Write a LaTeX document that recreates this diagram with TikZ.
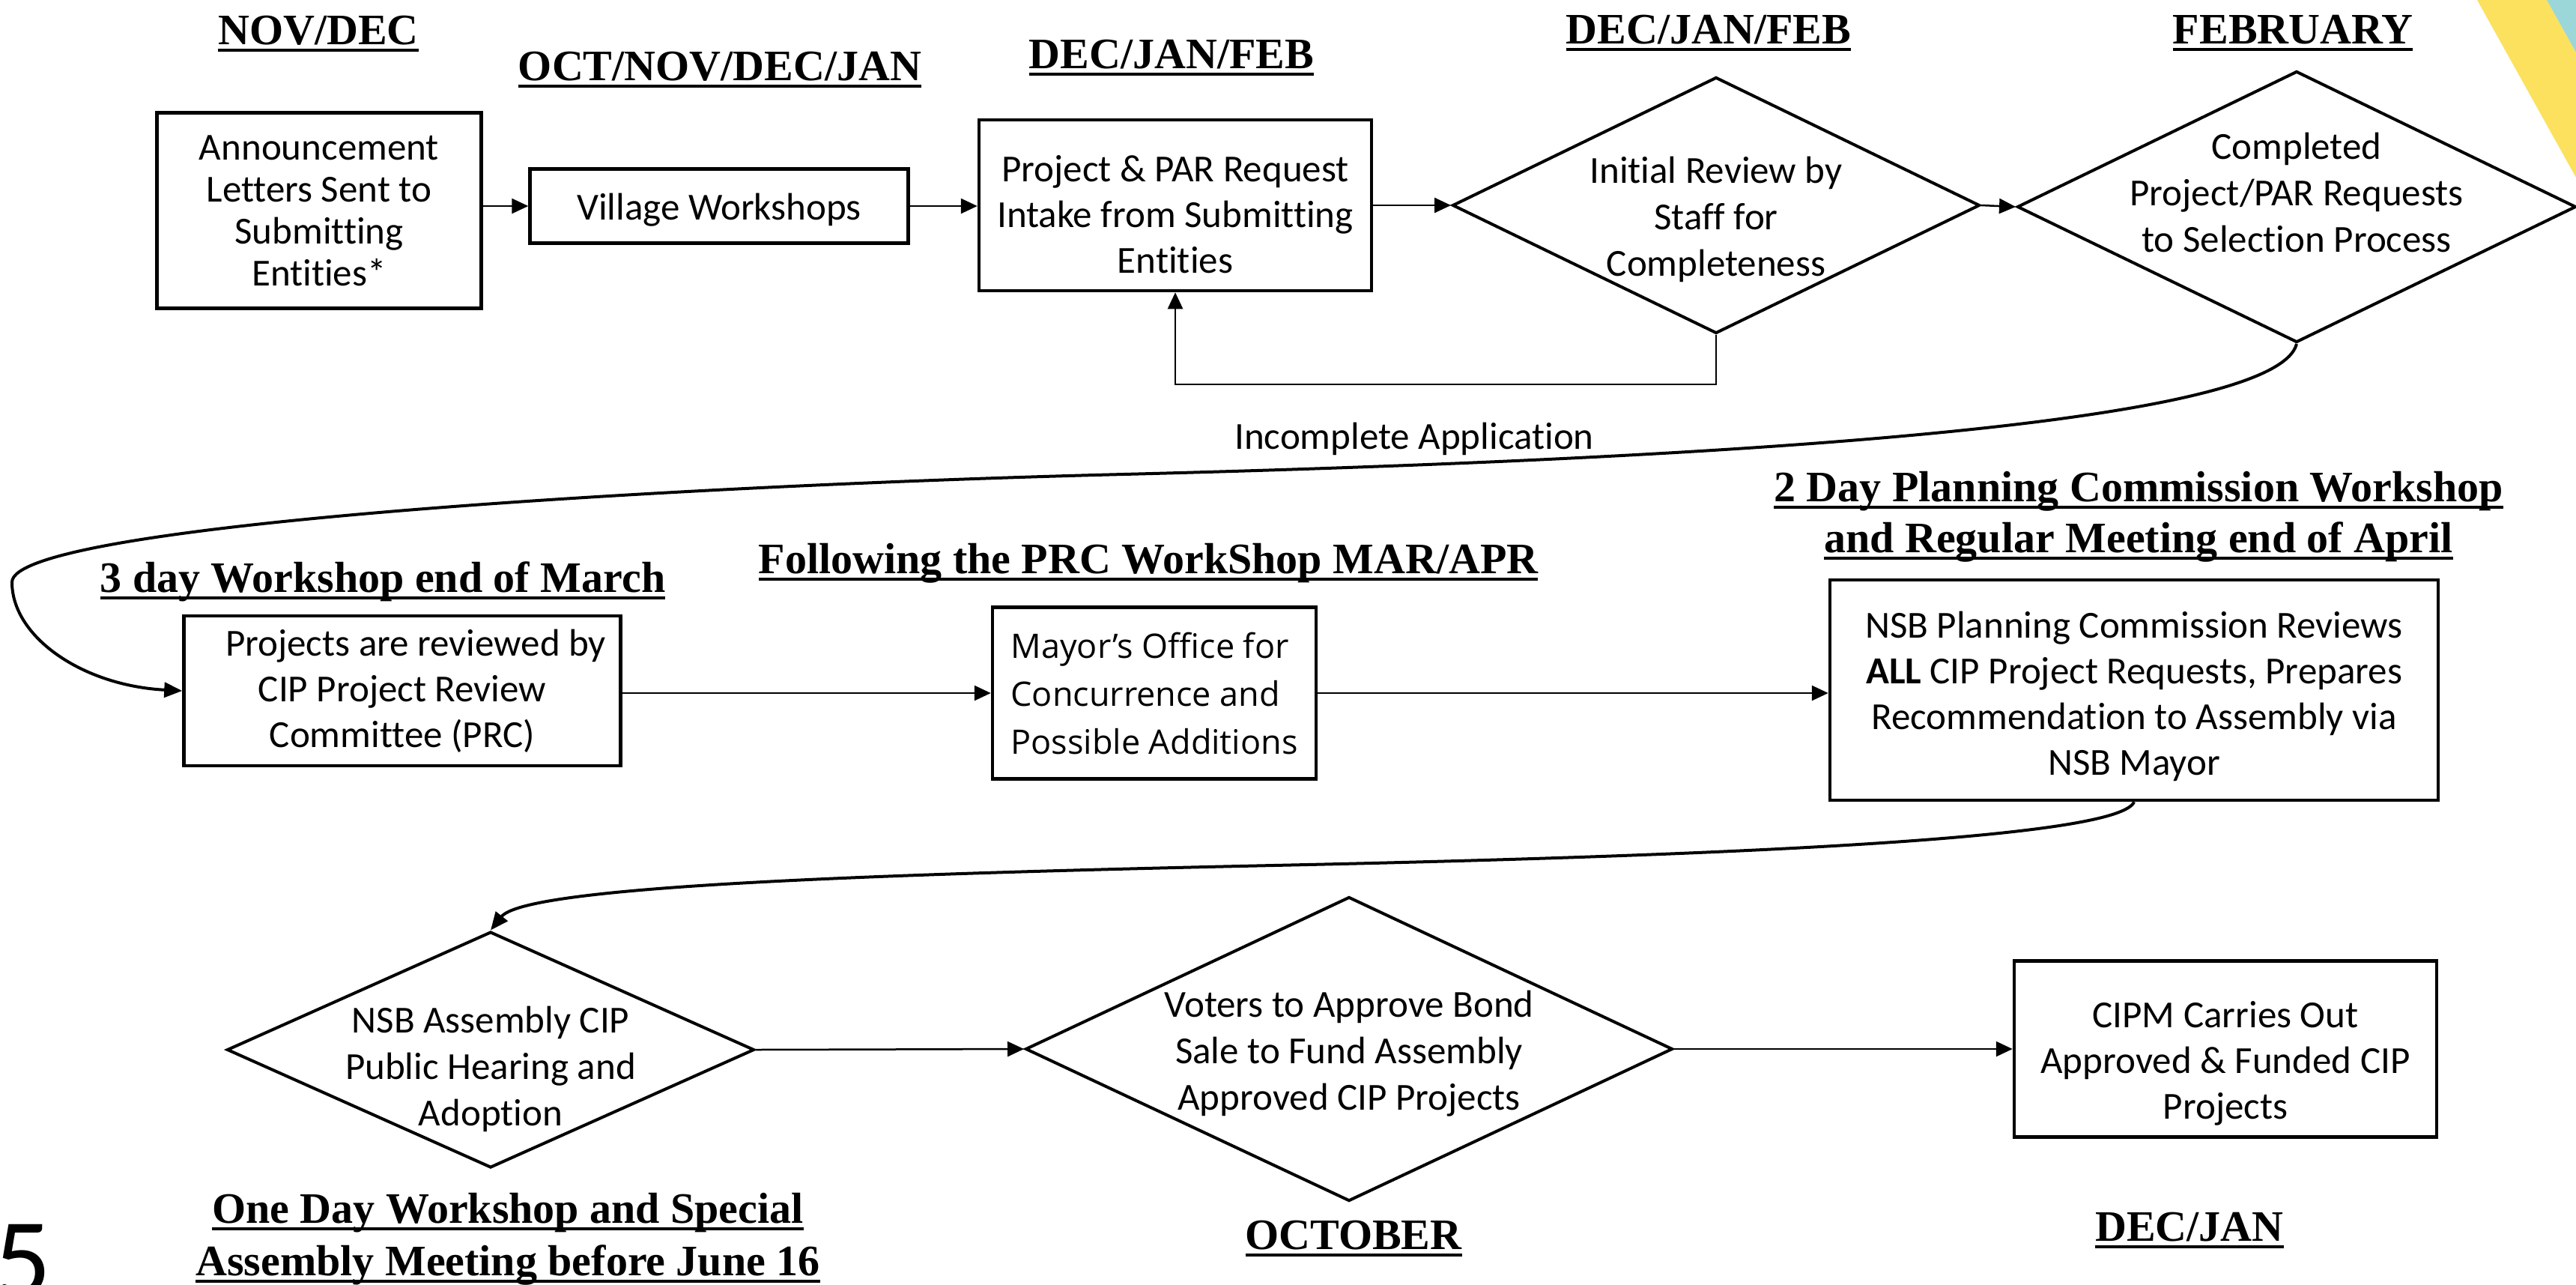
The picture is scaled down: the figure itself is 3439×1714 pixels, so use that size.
\documentclass[tikz,border=0pt]{standalone}
\usepackage{fontspec}
\setmainfont{Carlito}[Ligatures=NoCommon]
\newfontfamily\serifhd{Liberation Serif}
\newfontfamily\segfont{Open Sans}
\usetikzlibrary{arrows.meta,shapes.geometric}
\newcommand\hdu[1]{\setbox0=\hbox{#1}\rlap{\copy0}\rule[-10pt]{\wd0}{4pt}}
\newcommand\topstrut[1]{\rule{0pt}{#1}}
\definecolor{cornyellow}{HTML}{FCE15F}
\definecolor{cornteal}{HTML}{9BD7D8}
\begin{document}
\begin{tikzpicture}[x=1pt,y=-1pt,
 hd/.style={anchor=base,inner sep=0pt,font=\serifhd\bfseries\fontsize{58}{68}\selectfont},
 box/.style={draw,line width=4.5pt,align=center,inner sep=0pt,font=\fontsize{51}{61}\selectfont},
 dia/.style={draw,diamond,line width=4pt,inner sep=0pt},
 txt/.style={align=center,inner sep=0pt,font=\fontsize{51}{62}\selectfont},
 conn/.style={line width=2.5pt,-{Triangle[length=22pt,width=20pt]}},
 crv/.style={line width=4pt,-{Triangle[length=24pt,width=20pt]}},
]
\fill[white] (0,0) rectangle (3439,1714);
\useasboundingbox (0,0) rectangle (3439,1714);
% corner decoration
\fill[cornyellow] (3307,0) -- (3400,0) -- (3439,70) -- (3439,237) -- cycle;
\fill[cornteal] (3400,0) -- (3439,0) -- (3439,70) -- cycle;

% headers
\node[hd] (h1) at (425,59) {\hdu{NOV/DEC}};
\node[hd] (h2) at (961,107) {\hdu{OCT/NOV/DEC/JAN}};
\node[hd] (h3) at (1564,91) {\hdu{DEC/JAN/FEB}};
\node[hd] (h4) at (2281,58) {\hdu{DEC/JAN/FEB}};
\node[hd] (h5) at (3061,58) {\hdu{FEBRUARY}};
\node[hd] (h6) at (511,790) {\hdu{3 day Workshop end of March}};
\node[hd] (h7) at (1533,765) {\hdu{Following the PRC WorkShop MAR/APR}};
\node[hd] (h8a) at (2855,669) {\hdu{2 Day Planning Commission Workshop}};
\node[hd] (h8b) at (2855,737) {\hdu{and Regular Meeting end of April}};
\node[hd] (h9a) at (678,1632) {\hdu{One Day Workshop and Special}};
\node[hd] (h9b) at (678,1702) {\hdu{Assembly Meeting before June 16}};
\node[hd] (h10) at (1807,1667) {\hdu{OCTOBER}};
\node[hd] (h11) at (2923,1656) {\hdu{DEC/JAN}};

% row 1
\node[box,minimum width=433pt,minimum height=261pt,font=\fontsize{51}{56}\selectfont] (b1) at (426,281)
  {Announcement\\Letters Sent to\\Submitting\\Entities*};
\node[box,minimum width=505pt,minimum height=99pt] (b2) at (960,275) {\topstrut{46pt}Village Workshops};
\node[box,minimum width=524pt,minimum height=228pt] (b3) at (1569,274)
  {\topstrut{60pt}Project \& PAR Request\\Intake from Submitting\\Entities};
\node[dia,minimum width=704pt,minimum height=342pt] (d1) at (2291,274) {};
\node[txt] (d1t) at (2291,293) {Initial Review by\\Staff for\\Completeness};
\node[dia,minimum width=746pt,minimum height=362pt] (d2) at (3066,276) {};
\node[txt] (d2t) at (3066,257) {Completed\\Project/PAR Requests\\to Selection Process};

% row 2
\node[box,minimum width=583pt,minimum height=200pt] (b4) at (537,922)
  {\hspace*{36pt}Projects are reviewed by\\CIP Project Review\\Committee (PRC)};
\node[box,align=left,minimum width=432pt,minimum height=229pt,font=\segfont\fontsize{45}{64}\selectfont] (b5) at (1541,925)
  {Mayor’s Office for\\Concurrence and\\Possible Additions};
\node[box,minimum width=812pt,minimum height=294pt] (b6) at (2849,921)
  {\topstrut{52pt}NSB Planning Commission Reviews\\\textbf{ALL} CIP Project Requests, Prepares\\Recommendation to Assembly via\\NSB Mayor};

% row 3
\node[dia,minimum width=704pt,minimum height=315pt] (d3) at (655,1401) {};
\node[txt] (d3t) at (655,1427) {NSB Assembly CIP\\Public Hearing and\\Adoption};
\node[dia,minimum width=864pt,minimum height=406pt] (d4) at (1801,1400) {};
\node[txt] (d4t) at (1801,1406) {Voters to Approve Bond\\Sale to Fund Assembly\\Approved CIP Projects};
\node[box,minimum width=564pt,minimum height=235pt] (b7) at (2971,1400)
  {\topstrut{74pt}CIPM Carries Out\\Approved \& Funded CIP\\Projects};

% label
\node[txt] (lbl) at (1888,586) {Incomplete Application};

% page number
\node[anchor=base west,inner sep=0pt,font=\fontsize{150}{150}\selectfont] (pg) at (-8,1730) {5};

% straight connectors
\draw[conn] (b1.east |- b2.west) -- (b2.west);
\draw[conn] (b2.east) -- (b3.west |- b2.east);
\draw[conn] (b3.east) -- (d1.west);
\draw[conn] (d1.east) -- (d2.west);
\draw[conn] (d1.south) -- ++(0,66) -| (b3.south);
\draw[conn] (b4.east |- b5.west) -- (b5.west);
\draw[conn] (b5.east) -- (b6.west |- b5.east);
\draw[conn] (d3.east) -- (d4.west);
\draw[conn] (d4.east) -- (b7.west);

% curved connectors
\coordinate (w1) at (1500,633);
\coordinate (w2) at (16,777);
\coordinate (w3) at (1700,1155);
\draw[crv] (d2.south) .. controls (3040,560) and (2400,610) .. (w1)
  .. controls (900,648) and (16,700) .. (w2)
  .. controls (16,850) and (110,915) .. (b4.west);
\draw[crv] (b6.south) .. controls (2830,1115) and (2400,1140) .. (w3)
  .. controls (1100,1168) and (700,1185) .. (d3.north);
\end{tikzpicture}
\end{document}
